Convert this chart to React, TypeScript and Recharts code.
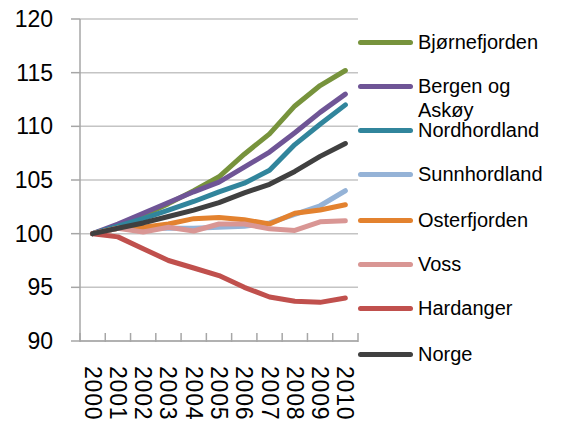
import React from "react";
import { LineChart, Line, XAxis, YAxis, CartesianGrid, Legend } from "recharts";

const years = ["2000", "2001", "2002", "2003", "2004", "2005", "2006", "2007", "2008", "2009", "2010"];

const bjornefjorden = [100, 100.7, 101.7, 102.8, 104.0, 105.3, 107.4, 109.3, 111.9, 113.8, 115.2];
const bergenAskoy = [100, 100.9, 101.9, 102.9, 103.9, 104.8, 106.2, 107.6, 109.4, 111.3, 113.0];
const nordhordland = [100, 100.7, 101.4, 102.2, 103.0, 103.9, 104.7, 105.9, 108.3, 110.2, 112.0];
const sunnhordland = [100, 100.5, 100.5, 100.5, 100.5, 100.6, 100.7, 101.0, 101.8, 102.6, 104.0];
const osterfjorden = [100, 100.5, 100.6, 100.9, 101.4, 101.5, 101.3, 100.9, 101.9, 102.2, 102.7];
const voss = [100, 100.5, 100.15, 100.6, 100.25, 100.9, 100.9, 100.45, 100.3, 101.1, 101.2];
const hardanger = [100, 99.7, 98.6, 97.5, 96.8, 96.1, 95.0, 94.1, 93.7, 93.6, 94.0];
const norge = [100, 100.5, 101.0, 101.6, 102.2, 102.9, 103.8, 104.6, 105.8, 107.2, 108.4];

const yTicks = [90, 95, 100, 105, 110, 115, 120];

const series = [
  { key: "Bjørnefjorden", values: bjornefjorden, color: "#77933C" },
  { key: "Bergen og Askøy", values: bergenAskoy, color: "#6F5596" },
  { key: "Nordhordland", values: nordhordland, color: "#31859C" },
  { key: "Sunnhordland", values: sunnhordland, color: "#95B3D7" },
  { key: "Osterfjorden", values: osterfjorden, color: "#E3822F" },
  { key: "Voss", values: voss, color: "#D99694" },
  { key: "Hardanger", values: hardanger, color: "#C0504D" },
  { key: "Norge", values: norge, color: "#404040" },
];

const data = years.map((year, i) => {
  const row: Record<string, string | number> = { year };
  series.forEach((s) => {
    row[s.key] = s.values[i];
  });
  return row;
});

const FONT = "'Liberation Sans', Arial, sans-serif";
const PLOT_LEFT = 80;
const PLOT_RIGHT = 358;
const BAND = (PLOT_RIGHT - PLOT_LEFT) / years.length;
const AXIS_GRAY = "#A6A6A6";

const XTick = (props: any) => {
  const { x, y, payload, index } = props;
  const axisY = y - 12;
  const tx = x;
  const ty = axisY + 29;
  return (
    <g>
      <line x1={x - BAND / 2} x2={x - BAND / 2} y1={axisY - 4} y2={axisY + 5} stroke={AXIS_GRAY} strokeWidth={1.5} />
      {index === years.length - 1 && (
        <line x1={x + BAND / 2} x2={x + BAND / 2} y1={axisY - 4} y2={axisY + 5} stroke={AXIS_GRAY} strokeWidth={1.5} />
      )}
      <text
        x={tx}
        y={ty}
        transform={`rotate(90, ${tx}, ${ty})`}
        textAnchor="start"
        dominantBaseline="central"
        fontFamily={FONT}
        fontSize={23}
        letterSpacing={0.8}
        fill="#000"
      >
        {payload.value}
      </text>
    </g>
  );
};

const YTick = (props: any) => {
  const { x, y, payload } = props;
  return (
    <text x={x} y={y} textAnchor="end" dominantBaseline="central" fontFamily={FONT} fontSize={23} fill="#000">
      {payload.value}
    </text>
  );
};

const legendTops = [42, 86, 130, 174, 220, 264, 308, 354];

const LegendContent = () => (
  <div style={{ position: "relative", width: 204, height: 425, fontFamily: FONT }}>
    {series.map((s, i) => (
      <div
        key={s.key}
        style={{
          position: "absolute",
          left: 0,
          top: legendTops[i] - 12,
          display: "flex",
          alignItems: "flex-start",
        }}
      >
        <div
          style={{
            width: 55,
            height: 5,
            borderRadius: 3,
            background: s.color,
            marginTop: 10,
            flex: "none",
          }}
        />
        <div
          style={{
            marginLeft: 5,
            fontSize: 20,
            lineHeight: "24px",
            color: "#000",
            width: 140,
            whiteSpace: "normal",
          }}
        >
          {s.key}
        </div>
      </div>
    ))}
  </div>
);

export default function App() {
  return (
    <div style={{ position: "absolute", left: 0, top: 0, width: 562, height: 425, background: "#fff" }}>
      <LineChart width={562} height={425} data={data} margin={{ top: 19, right: 204, bottom: 0, left: 0 }}>
        <CartesianGrid vertical={false} stroke="#C4C4C4" strokeWidth={1.5} />
        <XAxis
          dataKey="year"
          height={84}
          interval={0}
          padding={{ left: BAND / 2, right: BAND / 2 }}
          axisLine={{ stroke: AXIS_GRAY, strokeWidth: 1.5 }}
          tickLine={false}
          tick={<XTick />}
        />
        <YAxis
          width={80}
          domain={[90, 120]}
          ticks={yTicks}
          interval={0}
          axisLine={{ stroke: AXIS_GRAY, strokeWidth: 1.5 }}
          tickLine={{ stroke: AXIS_GRAY, strokeWidth: 1.5 }}
          tickSize={9}
          tickMargin={18}
          tick={<YTick />}
        />
        <Legend
          layout="horizontal"
          align="center"
          verticalAlign="middle"
          wrapperStyle={{ position: "absolute", left: 358, top: 0, width: 204, height: 425 }}
          content={<LegendContent />}
        />
        {series.map((s) => (
          <Line
            key={s.key}
            type="linear"
            dataKey={s.key}
            stroke={s.color}
            strokeWidth={5}
            strokeLinecap="round"
            strokeLinejoin="round"
            dot={false}
            activeDot={false}
            isAnimationActive={false}
          />
        ))}
      </LineChart>
    </div>
  );
}
